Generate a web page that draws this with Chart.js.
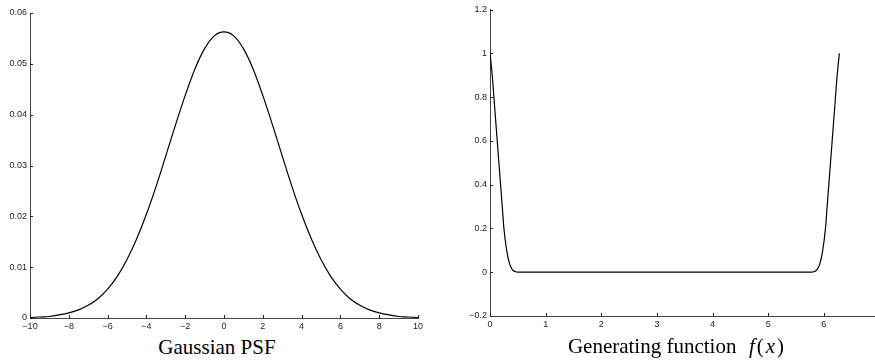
<!DOCTYPE html>
<html>
<head>
<meta charset="utf-8">
<script src="https://cdn.jsdelivr.net/npm/chart.js@4/dist/chart.umd.min.js"></script>
<style>
  body { margin: 0; background: #fff; }
  #wrap { position: relative; width: 875px; height: 362px; overflow: hidden; }
  canvas { position: absolute; top: 0; }
  .cap {
    position: absolute;
    font-family: "Liberation Serif", "Times New Roman", serif;
    font-size: 21px;
    line-height: 21px;
    color: #000;
    white-space: nowrap;
    transform: translateX(-50%);
  }
  .cap i { margin: 0 2px; }
</style>
</head>
<body>
<div id="wrap">
  <canvas id="psf" width="440" height="335" style="left:0"></canvas>
  <canvas id="gen" width="435" height="335" style="left:440px"></canvas>
  <div class="cap" style="left:217px; top:337px">Gaussian PSF</div>
  <div class="cap" style="left:676px; top:336px">Generating function &nbsp;<i>f</i>(<i>x</i>)</div>
</div>
<script>
// left panel: Gaussian PSF
const psfX = [-10, -9.5, -9, -8.5, -8, -7.5, -7, -6.5, -6, -5.5, -5, -4.5, -4, -3.5, -3, -2.5, -2, -1.5, -1, -0.5,
              0, 0.5, 1, 1.5, 2, 2.5, 3, 3.5, 4, 4.5, 5, 5.5, 6, 6.5, 7, 7.5, 8, 8.5, 9, 9.5, 10];
const psfY = [0.0001, 0.0002, 0.0003, 0.0006, 0.001, 0.0016, 0.0025, 0.0038, 0.0057, 0.0082, 0.0115, 0.0156, 0.0204,
              0.0259, 0.0319, 0.038, 0.0438, 0.049, 0.053, 0.0555, 0.0563, 0.0555, 0.053, 0.049, 0.0438, 0.038,
              0.0319, 0.0259, 0.0204, 0.0156, 0.0115, 0.0082, 0.0057, 0.0038, 0.0025, 0.0016, 0.001, 0.0006,
              0.0003, 0.0002, 0.0001];
const psfXTicks = [-10, -8, -6, -4, -2, 0, 2, 4, 6, 8, 10];
const psfYTicks = [0, 0.01, 0.02, 0.03, 0.04, 0.05, 0.06];

// right panel: generating function f(x)
const genX = [0, 0.04, 0.07, 0.10, 0.13, 0.16, 0.19, 0.22, 0.25, 0.30, 0.35, 0.40, 0.45, 0.50,
              1, 2, 3, 4, 5,
              5.78, 5.83, 5.88, 5.93, 5.98, 6.03, 6.06, 6.09, 6.12, 6.15, 6.18, 6.21, 6.24, 6.28];
const genY = [1, 0.9, 0.8, 0.7, 0.6, 0.5, 0.4, 0.3, 0.2, 0.1, 0.04, 0.012, 0.003, 0,
              0, 0, 0, 0, 0,
              0, 0.003, 0.012, 0.04, 0.1, 0.2, 0.3, 0.4, 0.5, 0.6, 0.7, 0.8, 0.9, 1];
const genXTicks = [0, 1, 2, 3, 4, 5, 6];
const genYTicks = [-0.2, 0, 0.2, 0.4, 0.6, 0.8, 1, 1.2];

const tickFont = { family: '"Liberation Sans", Arial, sans-serif', size: 9 };
const axisColor = '#444';
const fmt = v => String(Math.round(v * 1000) / 1000).replace('-', '\u2212');

// matlab style: short tick marks pointing into the plot
const inwardTicks = {
  id: 'inwardTicks',
  afterDraw(chart) {
    const ctx = chart.ctx;
    const area = chart.chartArea;
    const xs = chart.scales.x, ys = chart.scales.y;
    ctx.save();
    ctx.strokeStyle = '#222';
    ctx.lineWidth = 1;
    ctx.beginPath();
    xs.ticks.forEach(t => {
      const px = Math.round(xs.getPixelForValue(t.value)) + 0.5;
      ctx.moveTo(px, area.bottom);
      ctx.lineTo(px, area.bottom - 3);
    });
    ys.ticks.forEach(t => {
      const py = Math.round(ys.getPixelForValue(t.value)) + 0.5;
      ctx.moveTo(area.left, py);
      ctx.lineTo(area.left + 3, py);
    });
    ctx.stroke();
    ctx.restore();
  }
};

function makeAxis(min, max, ticks, extra) {
  return Object.assign({
    type: 'linear',
    min: min,
    max: max,
    afterBuildTicks: s => { s.ticks = ticks.map(v => ({ value: v })); },
    ticks: { font: tickFont, color: '#222', padding: 3, maxRotation: 0, autoSkip: false, callback: fmt },
    grid: { drawOnChartArea: false, drawTicks: false },
    border: { color: axisColor, width: 1 }
  }, extra);
}

function makeChart(id, xs, ys, xr, yr, xt, yt, yWidth, xHeight, pad) {
  new Chart(document.getElementById(id), {
    type: 'line',
    data: {
      datasets: [{
        data: xs.map((x, i) => ({ x: x, y: ys[i] })),
        borderColor: '#000',
        borderWidth: 1.2,
        pointRadius: 0,
        fill: false,
        cubicInterpolationMode: 'monotone'
      }]
    },
    options: {
      responsive: false,
      animation: false,
      events: [],
      layout: { padding: pad },
      plugins: { legend: { display: false }, tooltip: { enabled: false } },
      scales: {
        x: makeAxis(xr[0], xr[1], xt, { afterFit: s => { s.height = xHeight; } }),
        y: makeAxis(yr[0], yr[1], yt, { afterFit: s => { s.width = yWidth; } })
      }
    },
    plugins: [inwardTicks]
  });
}

makeChart('psf', psfX, psfY, [-10, 10], [0, 0.06], psfXTicks, psfYTicks, 30, 17,
  { top: 13, right: 22, left: 0, bottom: 0 });
makeChart('gen', genX, genY, [0, 6.92], [-0.2, 1.2], genXTicks, genYTicks, 50, 19,
  { top: 9.5, right: 0, left: 0, bottom: 0 });
</script>
</body>
</html>
